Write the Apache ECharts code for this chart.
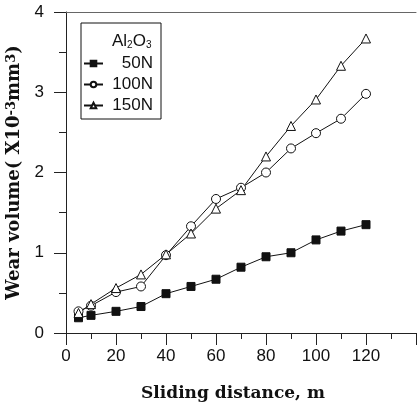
<!DOCTYPE html>
<html><head><meta charset="utf-8">
<script src="https://cdn.jsdelivr.net/npm/echarts@6/dist/echarts.min.js"></script>
<style>html,body{margin:0;padding:0;background:#fff}#c{width:417px;height:407px}</style>
</head><body><div id="c"></div>
<script>
const distance = [5,10,20,30,40,50,60,70,80,90,100,110,120];
const w50  = [0.19,0.22,0.27,0.33,0.49,0.58,0.67,0.82,0.95,1.00,1.16,1.27,1.35];
const w100 = [0.27,0.34,0.51,0.58,0.97,1.33,1.67,1.81,2.00,2.30,2.49,2.67,2.98];
const w150 = [0.25,0.36,0.56,0.73,0.98,1.24,1.55,1.78,2.20,2.58,2.91,3.33,3.67];
const seriesNames = ['50N','100N','150N'];
const xTickLabels = ['0','20','40','60','80','100','120'];

const pair = arr => distance.map((d,i)=>[d,arr[i]]);
const chart = echarts.init(document.getElementById('c'), null, {renderer:'canvas'});
const sans = 'Liberation Sans, Arial, sans-serif';
const serif = 'DejaVu Serif, serif';
const lineStyle = {color:'#111', width:1};
function mk(name, data, symbol, size, fill){
  return {name, type:'line', data:pair(data), symbol, symbolSize:size,
    lineStyle, itemStyle:{color:fill, borderColor:'#111', borderWidth:1},
    z: 3};
}
chart.setOption({
  animation:false,
  grid:{left:66, right:1, top:12, bottom:74, outerBoundsMode:'none', containLabel:false},
  xAxis:[{
    type:'value', min:0, max:140, interval:20,
    axisLine:{show:true, lineStyle:{color:'#222', width:1}},
    axisTick:{show:true, length:12, lineStyle:{color:'#222'}},
    minorTick:{show:true, splitNumber:2, length:6, lineStyle:{color:'#222'}},
    splitLine:{show:false},
    axisLabel:{margin:15, fontSize:17, fontFamily:sans, color:'#111',
      formatter:v=>{const s=String(v); return xTickLabels.indexOf(s)>=0?s:'';}},
    name:'Sliding distance, m', nameLocation:'middle', nameGap:52,
    nameTextStyle:{fontFamily:serif, fontWeight:'bold', fontSize:17, color:'#111', padding:[0,16,0,0]}
  },{
    type:'value', position:'top', min:0, max:140,
    axisLine:{show:true, lineStyle:{color:'#666', width:1}},
    axisTick:{show:false}, axisLabel:{show:false}, splitLine:{show:false}
  }],
  yAxis:{
    type:'value', min:0, max:4, interval:1,
    axisLine:{show:true, lineStyle:{color:'#222', width:1}},
    axisTick:{show:true, length:12, lineStyle:{color:'#222'}},
    minorTick:{show:true, splitNumber:2, length:7, lineStyle:{color:'#222'}},
    splitLine:{show:false},
    axisLabel:{margin:22, fontSize:17, fontFamily:sans, color:'#111'},
    name:'{a|Wear volume( X10}{s|-3}{a|mm}{s|3}{a|)}', nameLocation:'middle', nameGap:34,
    nameTextStyle:{rich:{
      a:{fontFamily:serif, fontWeight:'bold', fontSize:18, color:'#111'},
      s:{fontFamily:serif, fontWeight:'bold', fontSize:13, color:'#111', verticalAlign:'top', padding:[0,0,6,0]}
    }}
  },
  legend:{
    orient:'vertical', left:81, top:23, width:70,
    padding:[32,8,5,2], itemGap:4, itemWidth:19, itemHeight:7,
    borderColor:'#111', borderWidth:1, backgroundColor:'#fff',
    data:seriesNames,
    formatter:'{t|{name}}',
    textStyle:{rich:{t:{width:45, align:'right', fontFamily:sans, fontSize:17, color:'#111', lineHeight:16}}}
  },
  graphic:[{
    type:'text', left:112, top:33, z:100,
    style:{
      text:'{a|Al}{s|2}{a|O}{s|3}',
      rich:{a:{fontFamily:sans, fontSize:17, fill:'#111'}, s:{fontFamily:sans, fontSize:10, fill:'#111', verticalAlign:'bottom'}}
    }
  }],
  series:[
    mk(seriesNames[0], w50, 'rect', 8, '#111'),
    mk(seriesNames[1], w100, 'circle', 9, '#fff'),
    mk(seriesNames[2], w150, 'triangle', 9, '#fff')
  ]
});
</script></body></html>
